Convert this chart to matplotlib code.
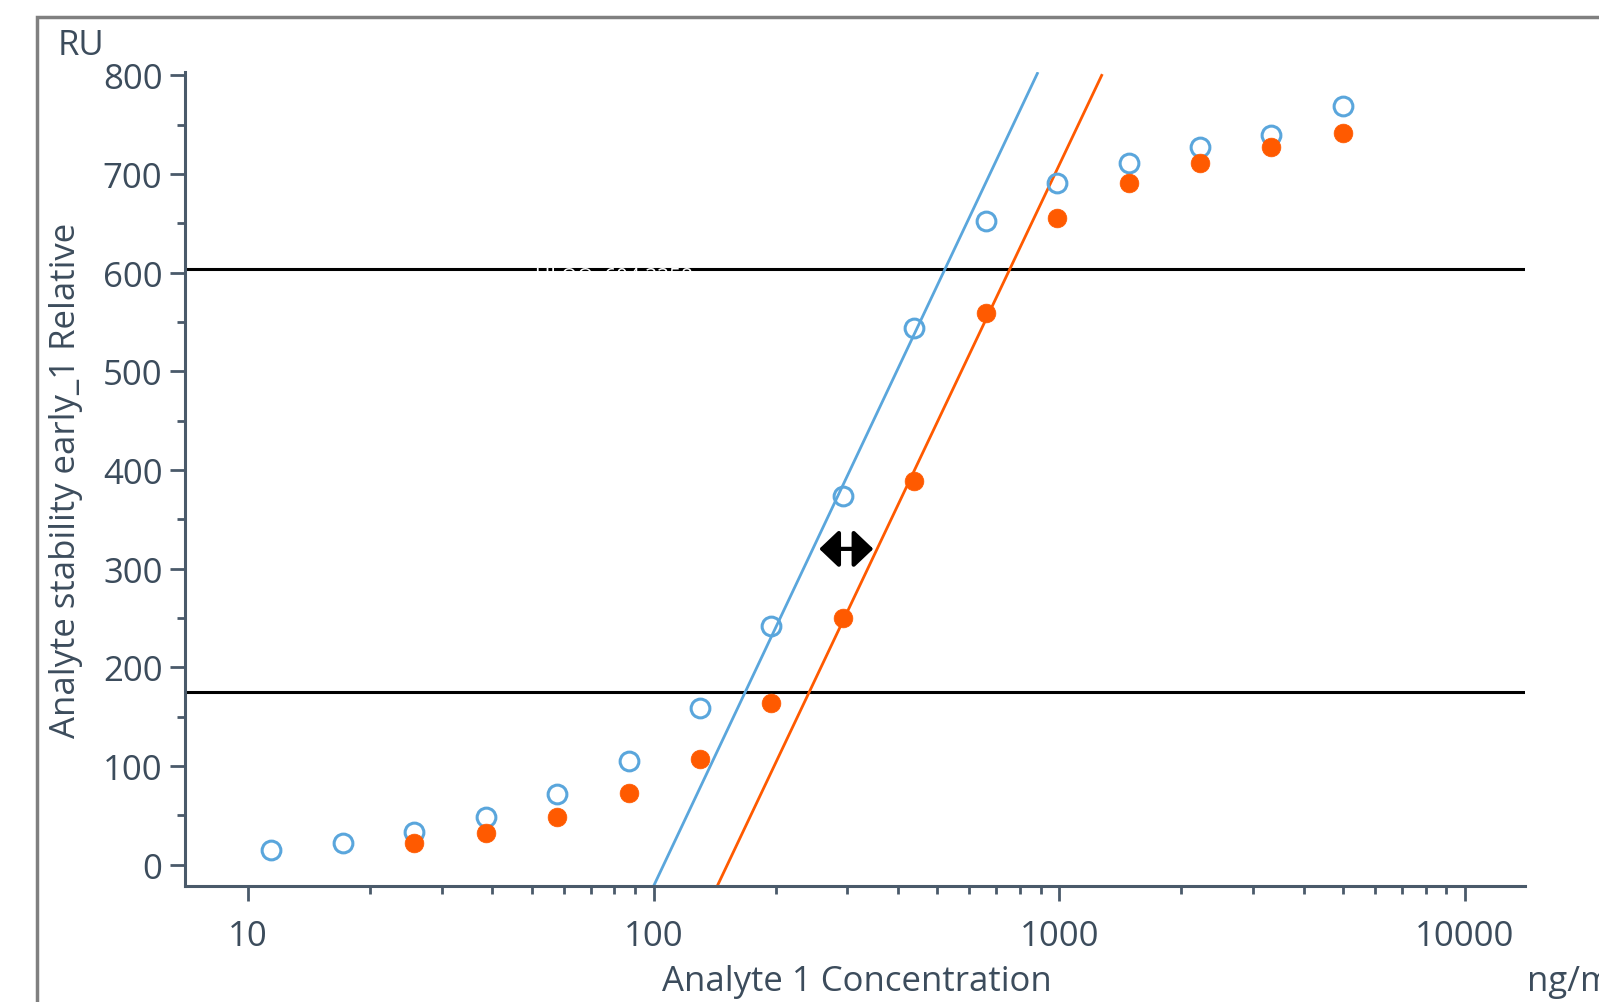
import matplotlib.pyplot as plt
from matplotlib.patches import Rectangle
from matplotlib.ticker import MultipleLocator, NullFormatter, FixedLocator, FixedFormatter

plt.rcParams['font.family'] = ['Open Sans', 'DejaVu Sans']

# dilution series (ng/ml)
conc = [11.42, 17.13, 25.69, 38.54, 57.81, 86.71, 130.1, 195.1,
        292.6, 438.9, 658.4, 987.7, 1481.5, 2222.2, 3333.3, 5000.0]
# reference sample (open blue)
ref_ru = [14.5, 21.7, 33.0, 48.6, 71.3, 105.4, 159.2, 241.9,
          373.1, 543.7, 652.2, 690.4, 711.1, 727.6, 740.0, 769.0]
# stressed sample (filled orange), starts at the 3rd dilution
stress_conc = conc[2:]
stress_ru = [21.7, 32.0, 48.6, 72.4, 107.5, 163.3, 250.1, 388.6,
             559.2, 655.3, 690.4, 711.1, 727.6, 741.1]

# linear-range fits (end points)
ref_fit_x = [100.0, 883.0]
ref_fit_y = [-21.7, 802.0]
stress_fit_x = [143.5, 1272.0]
stress_fit_y = [-21.7, 800.0]

# range limits
upper_limit = 604
lower_limit = 175

# shift arrow
arrow_x = [256, 348]
arrow_y = 320

x_major = [10, 100, 1000, 10000]
x_major_labels = ['10', '100', '1000', '10000']
x_minor = [20, 30, 40, 50, 60, 70, 80, 90,
           200, 300, 400, 500, 600, 700, 800, 900,
           2000, 3000, 4000, 5000, 6000, 7000, 8000, 9000]

txt = '#3c4c5c'
axc = '#4a5a6a'
blue = '#5aa6dc'
orange = '#ff5a00'
fs = 25

fig = plt.figure(figsize=(15.99, 10.03), dpi=100)
ax = fig.add_axes([0.1155, 0.1157, 0.9537 - 0.1155, 0.9268 - 0.1157])

# outer frame
fig.patches.append(Rectangle((37 / 1599, -0.2), 2, 1 - 18 / 1003 + 0.2,
                             transform=fig.transFigure, fill=False,
                             edgecolor='#808080', lw=2.5, clip_on=False))

ax.axhline(upper_limit, color='black', lw=2.2, zorder=1)
ax.axhline(lower_limit, color='black', lw=2.2, zorder=1)
ax.text(80, upper_limit + 2, 'ULOQ  604.3358', color='white', fontsize=15,
        ha='center', va='top', zorder=2)

ax.plot(ref_fit_x, ref_fit_y, color=blue, lw=2, zorder=2)
ax.plot(stress_fit_x, stress_fit_y, color=orange, lw=2, zorder=2)

ax.plot(conc, ref_ru, 'o', ms=13.5, mfc='none', mec=blue, mew=2.2, zorder=3)
ax.plot(stress_conc, stress_ru, 'o', ms=13.5, mfc=orange, mec=orange, mew=0.5, zorder=3)

ax.annotate('', xy=(arrow_x[0], arrow_y), xytext=(arrow_x[1], arrow_y),
            arrowprops=dict(arrowstyle='<|-|>,head_length=0.4,head_width=0.38',
                            color='black', lw=3, mutation_scale=30,
                            shrinkA=0, shrinkB=0))

ax.set_xscale('log')
ax.set_xlim(6.98, 14060)
ax.set_ylim(-21.7, 803)

ax.xaxis.set_major_locator(FixedLocator(x_major))
ax.xaxis.set_major_formatter(FixedFormatter(x_major_labels))
ax.xaxis.set_minor_locator(FixedLocator(x_minor))
ax.xaxis.set_minor_formatter(NullFormatter())
ax.yaxis.set_major_locator(MultipleLocator(100))
ax.yaxis.set_minor_locator(MultipleLocator(50))

for s in ['top', 'right']:
    ax.spines[s].set_visible(False)
for s in ['left', 'bottom']:
    ax.spines[s].set_color(axc)
    ax.spines[s].set_linewidth(2.2)

ax.tick_params(which='major', length=11, width=2, color=axc,
               labelsize=fs, labelcolor=txt)
ax.tick_params(which='minor', length=6, width=2, color=axc)
ax.tick_params(axis='x', which='major', pad=13)
ax.tick_params(axis='y', which='major', pad=5)

fig.text(66 / 1599, 0.5 * (0.1157 + 0.9268), 'Analyte stability early_1 Relative',
         rotation=90, ha='center', va='center', fontsize=fs, color=txt)
fig.text(58 / 1599, 1 - 46 / 1003, 'RU', ha='left', va='center',
         fontsize=fs, color=txt)
fig.text(857 / 1599, 1 - 982 / 1003, 'Analyte 1 Concentration', ha='center',
         va='center', fontsize=fs, color=txt)
fig.text(1527 / 1599, 1 - 982 / 1003, 'ng/ml', ha='left', va='center',
         fontsize=fs, color=txt)

fig.savefig('out.png', dpi=100)
